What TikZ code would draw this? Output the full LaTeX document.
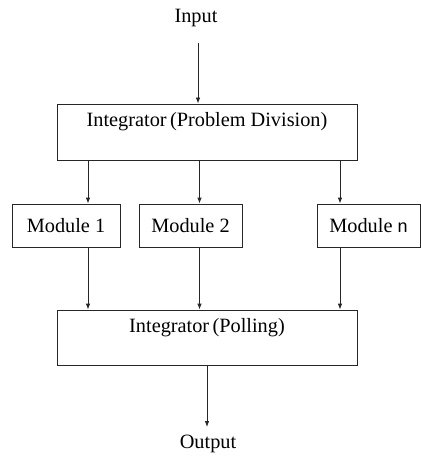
\documentclass[tikz,border=0pt]{standalone}
\usepackage{fontspec}
\setmainfont{Liberation Serif}
\newfontfamily\sansn{Liberation Sans}
\usetikzlibrary{arrows.meta}
\begin{document}
\begin{tikzpicture}[x=1pt,y=-1pt,
  box/.style={draw=black!85,line width=0.8pt,inner sep=0pt},
  lbl/.style={font=\fontsize{20.3}{24}\selectfont,inner sep=0pt},
  conn/.style={draw=black!85,line width=0.8pt,-{Latex[length=6pt,width=4.5pt]}}]
\useasboundingbox (0,0) rectangle (420,457);
% boxes
\node[box,minimum width=300pt,minimum height=56pt] (top) at (207,132) {};
\node[lbl] (toptxt) at (207,122) {Integrator\,(Problem Division)};
\node[box,minimum width=108pt,minimum height=43pt] (m1) at (66,225.5) {};
\node[lbl] at (m1) {Module 1};
\node[box,minimum width=103pt,minimum height=43pt] (m2) at (190.5,225.5) {};
\node[lbl] at (m2) {Module 2};
\node[box,minimum width=103pt,minimum height=43pt] (mn) at (368.5,225.5) {};
\node[lbl] at (mn) {Module {\sansn\fontsize{18}{20}\selectfont n}};
\node[box,minimum width=300pt,minimum height=55pt] (poll) at (207,337.5) {};
\node[lbl] (polltxt) at (207,328) {Integrator\,(Polling)};
% labels
\node[lbl] (in) at (196,18) {Input};
\node[lbl] (out) at (208,444) {Output};
% connector anchors
\coordinate (inA) at (198,43);
\coordinate (outB) at (207,427);
\coordinate (c1) at (88,0);
\coordinate (c2) at (199.5,0);
\coordinate (c3) at (340,0);
% connectors
\draw[conn] (inA) -- (inA |- top.north);
\draw[conn] (c1 |- top.south) -- (c1 |- m1.north);
\draw[conn] (c2 |- top.south) -- (c2 |- m2.north);
\draw[conn] (c3 |- top.south) -- (c3 |- mn.north);
\draw[conn] (c1 |- m1.south) -- (c1 |- poll.north);
\draw[conn] (c2 |- m2.south) -- (c2 |- poll.north);
\draw[conn] (c3 |- mn.south) -- (c3 |- poll.north);
\draw[conn] (poll.south -| outB) -- (outB);
\end{tikzpicture}
\end{document}
